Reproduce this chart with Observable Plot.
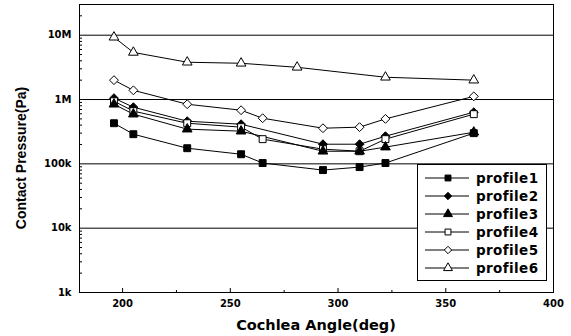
<!DOCTYPE html>
<html><head><meta charset="utf-8">
<script src="https://cdn.jsdelivr.net/npm/d3@7"></script>
<script src="https://cdn.jsdelivr.net/npm/@observablehq/plot@0.6"></script>
<style>
body{margin:0;background:#fff;}
#wrap{position:relative;width:571px;height:336px;overflow:hidden;}
#legend{position:absolute;left:417px;top:164px;width:128px;height:115px;border:1px solid #000;background:#fff;}
</style></head><body><div id="wrap"></div>
<script>
// ---- data ----
const seriesNames = ["profile1","profile2","profile3","profile4","profile5","profile6"];
const angles1 = [196,205,230,255,265,293,310,322,363];
const values1 = [428e3,289e3,175e3,141e3,103e3,80e3,89e3,103e3,300e3];
const angles2 = [196,205,230,255,293,310,322,363];
const values2 = [1.05e6,760e3,460e3,413e3,202e3,202e3,269e3,635e3];
const angles3 = [196,205,230,255,293,310,322,363];
const values3 = [845e3,592e3,346e3,322e3,157e3,157e3,182e3,310e3];
const angles4 = [196,205,230,255,265,293,310,322,363];
const values4 = [940e3,660e3,428e3,372e3,242e3,169e3,157e3,242e3,592e3];
const angles5 = [196,205,230,255,265,293,310,322,363];
const values5 = [2.0e6,1.39e6,845e3,682e3,512e3,358e3,372e3,500e3,1.12e6];
const angles6 = [196,205,230,255,281,322,363];
const values6 = [9.3e6,5.4e6,3.8e6,3.66e6,3.17e6,2.22e6,2.0e6];
const xTicks = [200,250,300,350,400];
const xMinorTicks = [225,275,325,375];
const yTicks = [1e3,1e4,1e5,1e6,1e7];
const yTickLabels = ["1k","10k","100k","1M","10M"];
const xLabel = "Cochlea Angle(deg)";
const yLabel = "Contact Pressure(Pa)";

// marker styles per series
const symbols = ["square","diamond2","triangle","square","diamond2","triangle"];
const fills = ["black","black","black","white","white","white"];
const sizes = [3.9,4,3.6,3.9,4,3.6];

const allAngles = [angles1,angles2,angles3,angles4,angles5,angles6];
const allValues = [values1,values2,values3,values4,values5,values6];
const rows = [];
seriesNames.forEach((s,i)=>allAngles[i].forEach((a,j)=>rows.push({series:s, angle:a, value:allValues[i][j], idx:i})));

const yMinor = [];
for (const d of [1e3,1e4,1e5,1e6,1e7]) for (let k=2;k<=9;k++) if (d*k<=3e7) yMinor.push(d*k);

const font = "'DejaVu Sans', sans-serif";
const chart = Plot.plot({
  width: 571, height: 336,
  marginLeft: 79, marginRight: 18, marginTop: 4, marginBottom: 44,
  style: {fontFamily: font, fontSize: "10px", fontWeight: "bold", color: "#000", background: "#fff"},
  x: {domain: [180,400], label: null},
  y: {type: "log", domain: [1e3, 3e7], label: null},
  r: {type: "identity"},
  marks: [
    Plot.ruleY(yTicks.slice(1), {stroke: "#000", strokeWidth: 1}),
    Plot.frame({stroke: "#000", strokeWidth: 1}),
    Plot.axisX(xTicks, {tickSize: 0, tickPadding: 7, fontWeight: "bold", fontSize: 10}),
    Plot.axisX(xTicks, {tickSize: -4, tickFormat: () => ""}),
    Plot.axisX(xMinorTicks, {tickSize: -2, tickFormat: () => ""}),
    Plot.axisY(yTicks, {tickSize: 0, tickPadding: 8, tickFormat: (d) => yTickLabels[yTicks.indexOf(d)], fontWeight: "bold", fontSize: 10}),
    Plot.axisY(yMinor, {tickSize: -3, tickFormat: () => ""}),
    Plot.line(rows, {x: "angle", y: "value", z: "series", stroke: "#000", strokeWidth: 1}),
    Plot.dot(rows, {x: "angle", y: "value", symbol: d => symbols[d.idx], fill: d => fills[d.idx], stroke: "#000", strokeWidth: 1, r: d => sizes[d.idx]})
  ]
});
document.getElementById("wrap").appendChild(chart);

const svg = d3.select(chart);
svg.append("text").attr("x", 316).attr("y", 330).attr("text-anchor","middle")
  .style("font-family", font).style("font-size","14.5px").style("font-weight","bold").text(xLabel);
svg.append("text").attr("transform","translate(26,158) rotate(-90)").attr("text-anchor","middle")
  .style("font-family","'Liberation Sans', Arial, sans-serif").style("font-size","14px").style("font-weight","bold").text(yLabel);

// legend
const leg = d3.select("#wrap").append("div").attr("id","legend");
const ls = leg.append("svg").attr("width",128).attr("height",115);
const symMap = {square: d3.symbolSquare, diamond2: d3.symbolDiamond2, triangle: d3.symbolTriangle};
seriesNames.forEach((s,i)=>{
  const y = 13 + i*18;
  ls.append("line").attr("x1",7).attr("x2",51).attr("y1",y).attr("y2",y).attr("stroke","#000");
  ls.append("path").attr("transform",`translate(30,${y})`).attr("d", d3.symbol(symMap[symbols[i]], 11*Math.PI)())
    .attr("fill", fills[i]).attr("stroke","#000");
  ls.append("text").attr("x",58).attr("y",y).attr("dy","0.36em")
    .style("font-family",font).style("font-size","13.5px").style("font-weight","bold").style("letter-spacing","0.4px").text(s);
});
</script></body></html>
